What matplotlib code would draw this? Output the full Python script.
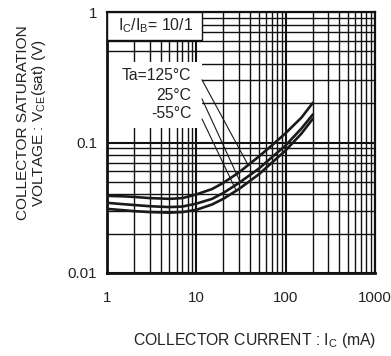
import numpy as np
import matplotlib.pyplot as plt
from matplotlib.patches import Rectangle
from matplotlib.ticker import LogLocator, NullFormatter, FixedLocator, FixedFormatter

plt.rcParams['font.family'] = ['Liberation Sans', 'DejaVu Sans']

# collector current (mA)
ic = [1, 1.5, 2, 3, 5, 7, 10, 15, 20, 30, 50, 70, 100, 150, 200]
# VCE(sat) (V) per ambient temperature
vce_125 = [0.039, 0.0387, 0.0383, 0.0375, 0.037, 0.0375, 0.040, 0.044, 0.049,
           0.059, 0.078, 0.095, 0.118, 0.155, 0.200]
vce_25 = [0.0345, 0.0337, 0.0332, 0.0325, 0.032, 0.0323, 0.034, 0.037, 0.041,
          0.049, 0.063, 0.077, 0.095, 0.128, 0.163]
vce_m55 = [0.031, 0.0303, 0.0298, 0.0293, 0.029, 0.0293, 0.0305, 0.0335, 0.037,
           0.044, 0.057, 0.070, 0.087, 0.117, 0.151]

curves = [vce_125, vce_25, vce_m55]
temp_labels = ["Ta=125°C", "25°C", "-55°C"]
# where each leader line touches its curve (mA)
leader_ic = [38, 31, 28]

x_ticks = [1, 10, 100, 1000]
x_ticklabels = ["1", "10", "100", "1000"]
y_ticks = [0.01, 0.1, 1]
y_ticklabels = ["0.01", "0.1", "1"]

fig = plt.figure(figsize=(3.91, 3.56), dpi=100)
ax = fig.add_axes([107 / 391, 1 - 273 / 356, (375 - 107) / 391, (273 - 12) / 356])
ax.set_xscale('log')
ax.set_yscale('log')
ax.set_xlim(1, 1000)
ax.set_ylim(0.01, 1)

ax.xaxis.set_major_locator(FixedLocator(x_ticks))
ax.xaxis.set_major_formatter(FixedFormatter(x_ticklabels))
ax.yaxis.set_major_locator(FixedLocator(y_ticks))
ax.yaxis.set_major_formatter(FixedFormatter(y_ticklabels))
for axis in (ax.xaxis, ax.yaxis):
    axis.set_minor_locator(LogLocator(base=10, subs=np.arange(2, 10)))
    axis.set_minor_formatter(NullFormatter())

ax.tick_params(which='both', length=0, labelsize=10.8, colors='#222222')
ax.tick_params(axis='x', pad=13)
ax.tick_params(axis='y', pad=7)

ax.set_axisbelow(True)
ax.grid(which='major', color='#111111', lw=1.5)
ax.grid(which='minor', color='#111111', lw=1.0)
for s in ax.spines.values():
    s.set_color('#111111')
    s.set_linewidth(1.6)
ax.spines['left'].set_linewidth(2.0)
ax.spines['bottom'].set_linewidth(2.0)

for v in curves:
    ax.plot(ic, v, color='#1a1a1a', lw=1.9, zorder=3)

# white area behind temperature labels
ax.add_patch(Rectangle((1.02, 0.129), 11.6 - 1.02, 0.414 - 0.129,
                       facecolor='white', edgecolor='none', zorder=1.5))

label_y = [0.329, 0.231, 0.168]
for lab, ly in zip(temp_labels, label_y):
    ax.text(8.8, ly, lab, ha='right', va='center', fontsize=11.3,
            color='#222222', zorder=4)

start_y = [0.301, 0.215, 0.151]
for v, xi, sy in zip(curves, leader_ic, start_y):
    yi = 10 ** np.interp(np.log10(xi), np.log10(ic), np.log10(v))
    ax.plot([11.6, xi], [sy, yi], color='#1a1a1a', lw=0.8, zorder=2.5)

# IC/IB box
ax.add_patch(Rectangle((1.0, 0.61), 11.6 - 1.0, 1.0 - 0.61,
                       facecolor='white', edgecolor='#111111', lw=1.0, zorder=4))
ax.text(1.33, 0.781, r"I$\mathregular{_C}$/I$\mathregular{_B}$= 10/1",
        ha='left', va='center', fontsize=11.3, color='#222222', zorder=5)

fig.text(255 / 391, 1 - 340 / 356,
         r"COLLECTOR CURRENT : I$\mathregular{_C}$ (mA)",
         ha='center', va='center', fontsize=11.3, color='#222222')
fig.text(32 / 391, 1 - 123 / 356,
         "COLLECTOR SATURATION\n" + r"VOLTAGE : V$\mathregular{_{CE}}$(sat) (V)",
         rotation=90, ha='center', va='center', multialignment='center',
         linespacing=0.95, fontsize=11.1, color='#222222')

fig.savefig("out.png", dpi=100)
